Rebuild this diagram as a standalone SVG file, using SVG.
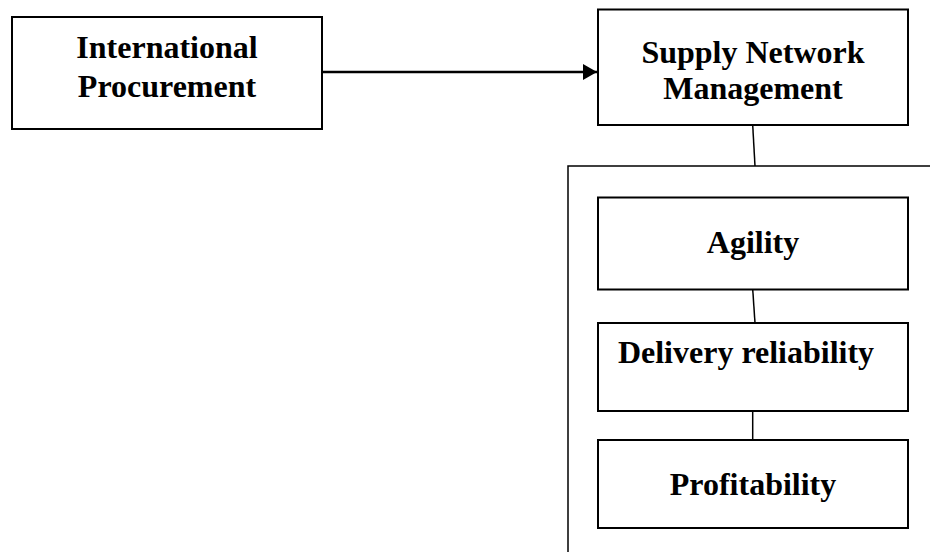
<svg xmlns="http://www.w3.org/2000/svg" width="930" height="552" viewBox="0 0 930 552">
<style>
.box{fill:#fff;stroke:#000;stroke-width:2}
.lbl{font-family:"Liberation Serif","Times New Roman",serif;font-weight:bold;font-size:32px;fill:#000;text-anchor:middle}
.con{fill:none;stroke:#000;stroke-width:1.5}
</style>
<defs>
<marker id="arr" markerWidth="14" markerHeight="16" refX="14" refY="8" orient="auto" markerUnits="userSpaceOnUse">
<path d="M0,0 L14,8 L0,16 Z" fill="#000"/>
</marker>
</defs>
<rect width="930" height="552" fill="#fff"/>
<g id="frame">
<path d="M940,166 L568,166 L568,560" class="con" stroke-width="2"/>
</g>
<g id="connectors">
<line x1="322" y1="72" x2="597" y2="72" stroke="#000" stroke-width="2.5" marker-end="url(#arr)"/>
<line x1="752.7" y1="125" x2="755" y2="166" class="con"/>
<line x1="752.7" y1="289" x2="755" y2="323" class="con"/>
<line x1="752.7" y1="411" x2="752.7" y2="440" class="con" stroke-width="2"/>
</g>
<g id="international-procurement">
<rect x="12" y="17" width="310" height="112" class="box"/>
<text x="167" y="58" class="lbl">International</text>
<text x="167" y="97" class="lbl">Procurement</text>
</g>
<g id="supply-network-management">
<rect x="598" y="9.5" width="310" height="115.5" class="box"/>
<text x="753" y="63" class="lbl">Supply Network</text>
<text x="753" y="99" class="lbl">Management</text>
</g>
<g id="agility">
<rect x="598" y="197.5" width="310" height="92" class="box"/>
<text x="753" y="253" class="lbl">Agility</text>
</g>
<g id="delivery-reliability">
<rect x="598" y="323" width="310" height="88" class="box"/>
<text x="746" y="363" class="lbl">Delivery reliability</text>
</g>
<g id="profitability">
<rect x="598" y="440" width="310" height="88" class="box"/>
<text x="753" y="495" class="lbl">Profitability</text>
</g>
</svg>
